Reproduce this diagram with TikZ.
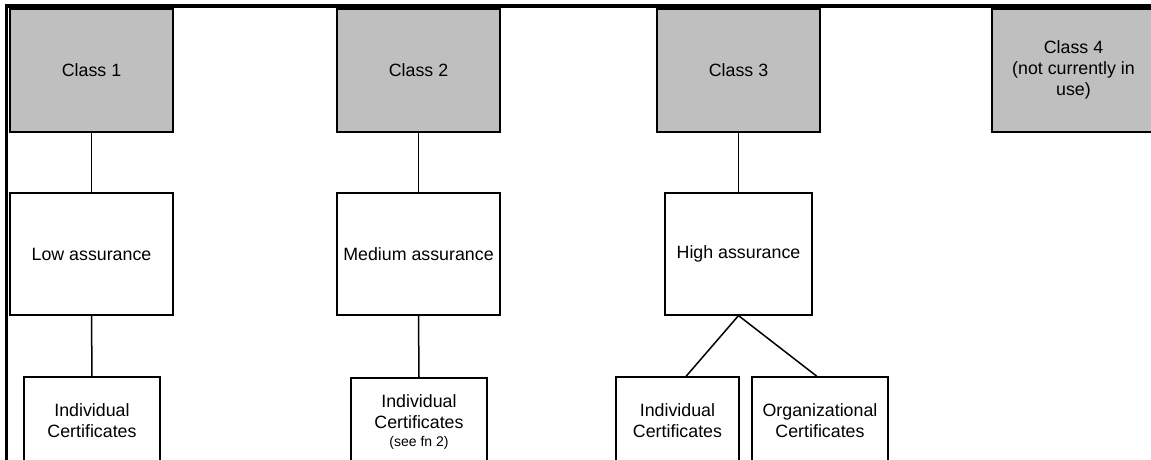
\documentclass[tikz,border=0pt]{standalone}
\usepackage{fontspec}
\setmainfont{Liberation Sans}
\usetikzlibrary{shadows}
\begin{document}
\begin{tikzpicture}[x=1pt,y=-1pt,
  every node/.style={font=\fontsize{17.8}{21}\selectfont},
  basebox/.style={draw=black, line width=1.2pt, inner sep=0pt, align=center},
  shadowed/.style={drop shadow={shadow xshift=1.4pt, shadow yshift=-1.4pt, fill=black!55, opacity=1}},
  graybox/.style={basebox, shadowed, fill=black!25, minimum width=163, minimum height=123},
  whitebox/.style={basebox, shadowed, fill=white, minimum width=163, minimum height=122},
  leafbox/.style={basebox, fill=white, minimum width=136, minimum height=88},
  conn/.style={draw=black, line width=1.5pt},
  frame/.style={draw=black, line width=3.2pt}
]
\useasboundingbox (0,0) rectangle (1151,459);
\clip (0,0) rectangle (1151,459);
\fill[white] (0,0) rectangle (1151,459);
% frame
\coordinate (ftl) at (6.5,6);
\coordinate (ftr) at (1160,6);
\coordinate (fbl) at (6.5,470);
\draw[frame] (ftr) -- (ftl) -- (fbl);
% class boxes
\node[graybox] (c1) at (91.5,70.5) {Class 1};
\node[graybox] (c2) at (418.5,70.5) {Class 2};
\node[graybox] (c3) at (738.5,70.5) {Class 3};
\node[graybox] (c4) at (1073.5,70.5) {\raisebox{11pt}{\begin{tabular}{@{}c@{}}Class 4\\(not currently in\\use)\end{tabular}}};
% assurance boxes
\node[whitebox] (low) at (91.5,254) {Low assurance};
\node[whitebox] (med) at (418.5,254) {Medium assurance};
\node[whitebox, minimum width=147] (high) at (738.5,254) {High assurance};
% leaf boxes
\node[leafbox] (ind1) at (92,421) {Individual\\Certificates};
\node[leafbox] (ind2) at (419,422) {Individual\\Certificates\\[-3pt]{\fontsize{14}{16}\selectfont (see fn 2)}};
\node[leafbox, minimum width=123] (ind3) at (677.5,421) {Individual\\Certificates};
\node[leafbox] (org) at (820,421) {Organizational\\Certificates};
% connectors
\draw[conn] (c1.south) -- (low.north);
\draw[conn] (low.south) -- (ind1.north);
\draw[conn] (c2.south) -- (med.north);
\draw[conn] (med.south) -- (ind2.north);
\draw[conn] (c3.south) -- (high.north);
\draw[conn] (high.south) -- ([xshift=8.5pt]ind3.north);
\draw[conn] (high.south) -- ([xshift=-3pt]org.north);
\end{tikzpicture}
\end{document}
